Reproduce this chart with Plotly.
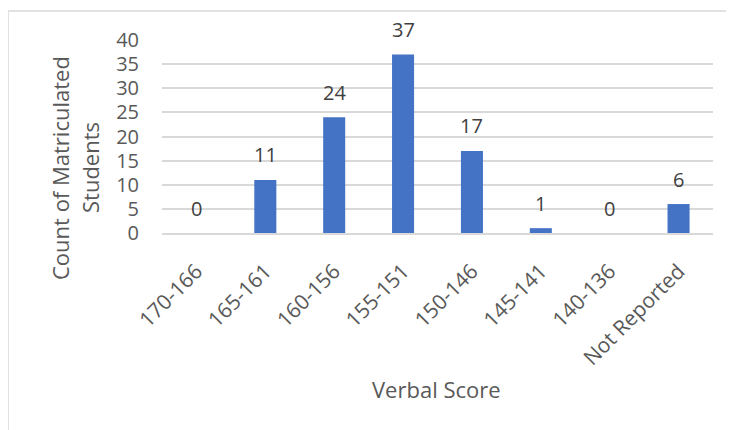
import plotly.graph_objects as go

categories = ["170-166", "165-161", "160-156", "155-151", "150-146", "145-141", "140-136", "Not Reported"]
counts = [0, 11, 24, 37, 17, 1, 0, 6]
y_ticks = [0, 5, 10, 15, 20, 25, 30, 35, 40]
y_title_lines = ["Count of Matriculated", "Students"]

OFF = 8  # page body offset
W, H = 734 - OFF, 430 - OFF
L, T = 162 - OFF, 40 - OFF
R = W - (713 - OFF)
B = H - (233 - OFF)
pw, ph = W - L - R, H - T - B

def px_x(p):
    return (p - OFF - L) / pw

def px_y(p):
    return (H - B - (p - OFF)) / ph

FONT = "Open Sans"
fig = go.Figure(go.Bar(
    x=categories, y=counts,
    marker=dict(color="#4472C4", line=dict(width=0)),
))

for c, v in zip(categories, counts):
    fig.add_annotation(x=c, y=v, text=str(v), showarrow=False, yanchor="middle",
                       yshift=25, font=dict(family=FONT, size=20, color="#404040"))

for line, xp in zip(y_title_lines, [60, 90]):
    fig.add_annotation(xref="paper", yref="paper", x=px_x(xp), y=px_y(168),
                       text=line, textangle=-90,
                       showarrow=False, xanchor="center", yanchor="middle",
                       font=dict(family=FONT, size=22, color="#595959"))
fig.add_annotation(xref="paper", yref="paper", x=px_x(436), y=px_y(389),
                   text="Verbal Score", showarrow=False, xanchor="center", yanchor="middle",
                   font=dict(family=FONT, size=22, color="#595959"))

fig.add_shape(type="rect", xref="paper", yref="paper",
              x0=px_x(8), y0=px_y(445), x1=px_x(745), y1=px_y(11),
              line=dict(color="#d9d9d9", width=1.5), fillcolor="rgba(0,0,0,0)", layer="below")

fig.update_layout(
    width=W, height=H,
    margin=dict(l=L, r=R, t=T, b=B, autoexpand=False),
    paper_bgcolor="white", plot_bgcolor="white",
    bargap=0.68, showlegend=False,
    font=dict(family=FONT, color="#595959"),
)
fig.update_xaxes(tickangle=-45, tickfont=dict(family=FONT, size=21, color="#595959"),
                 showgrid=False, showline=True, linecolor="#d9d9d9", linewidth=1.5,
                 ticks="", automargin=False, ticklabelstandoff=16)
fig.update_yaxes(range=[0, 40], tickvals=y_ticks, tickfont=dict(family=FONT, size=20, color="#595959"),
                 showgrid=True, gridcolor="#d9d9d9", gridwidth=1.5, zeroline=False,
                 showline=False, ticks="", automargin=False, ticklabelstandoff=22)

fig.write_html("out.html")
